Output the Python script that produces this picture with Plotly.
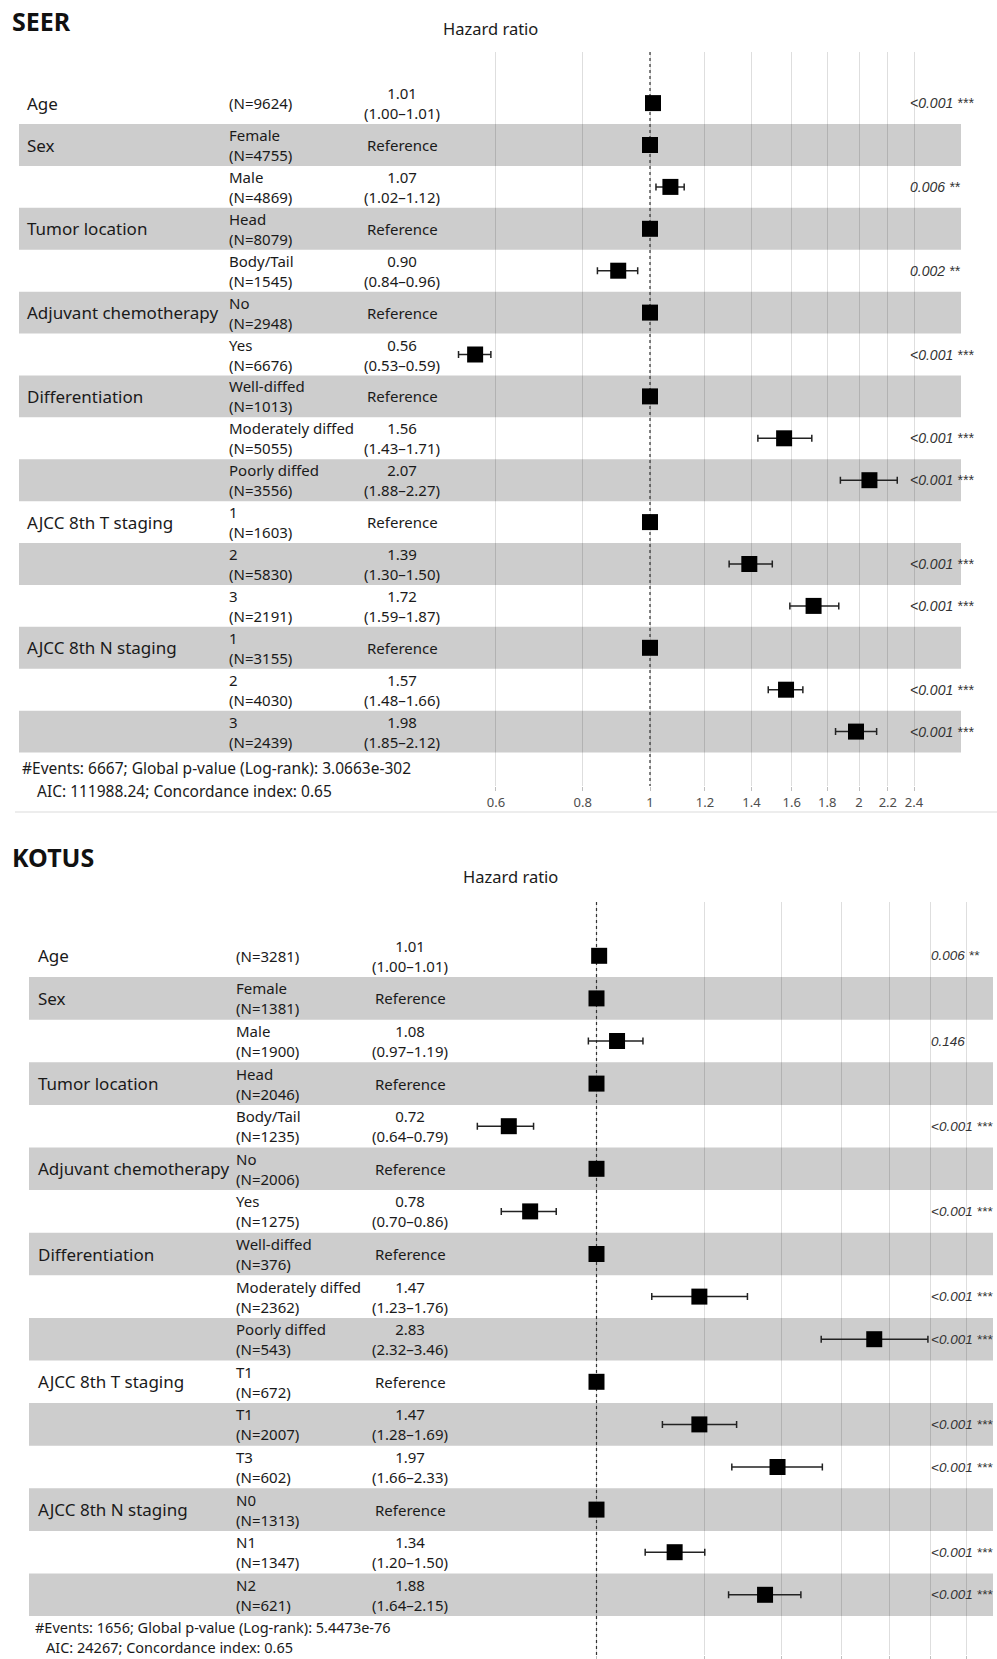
import math
import plotly.graph_objects as go

W, H = 997, 1659

# ---------------- SEER data ----------------
seer_vars = ["Age", "Sex", "", "Tumor location", "", "Adjuvant chemotherapy", "",
             "Differentiation", "", "", "AJCC 8th T staging", "", "",
             "AJCC 8th N staging", "", ""]
seer_levels = ["", "Female", "Male", "Head", "Body/Tail", "No", "Yes", "Well-diffed",
               "Moderately diffed", "Poorly diffed", "1", "2", "3", "1", "2", "3"]
seer_n = [9624, 4755, 4869, 8079, 1545, 2948, 6676, 1013, 5055, 3556,
          1603, 5830, 2191, 3155, 4030, 2439]
seer_hr = [1.01, 1, 1.07, 1, 0.90, 1, 0.56, 1, 1.56, 2.07, 1, 1.39, 1.72, 1, 1.57, 1.98]
seer_lo = [1.00, None, 1.02, None, 0.84, None, 0.53, None, 1.43, 1.88,
           None, 1.30, 1.59, None, 1.48, 1.85]
seer_hi = [1.01, None, 1.12, None, 0.96, None, 0.59, None, 1.71, 2.27,
           None, 1.50, 1.87, None, 1.66, 2.12]
seer_p = ["<0.001 ***", "", "0.006 **", "", "0.002 **", "", "<0.001 ***", "",
          "<0.001 ***", "<0.001 ***", "", "<0.001 ***", "<0.001 ***", "",
          "<0.001 ***", "<0.001 ***"]
seer_ticks = [0.6, 0.8, 1, 1.2, 1.4, 1.6, 1.8, 2, 2.2, 2.4]
seer_footer = ["#Events: 6667; Global p-value (Log-rank): 3.0663e-302",
               "AIC: 111988.24; Concordance index: 0.65"]

# ---------------- KOTUS data ----------------
kotus_vars = ["Age", "Sex", "", "Tumor location", "", "Adjuvant chemotherapy", "",
              "Differentiation", "", "", "AJCC 8th T staging", "", "",
              "AJCC 8th N staging", "", ""]
kotus_levels = ["", "Female", "Male", "Head", "Body/Tail", "No", "Yes", "Well-diffed",
                "Moderately diffed", "Poorly diffed", "T1", "T1", "T3", "N0", "N1", "N2"]
kotus_n = [3281, 1381, 1900, 2046, 1235, 2006, 1275, 376, 2362, 543,
           672, 2007, 602, 1313, 1347, 621]
kotus_hr = [1.01, 1, 1.08, 1, 0.72, 1, 0.78, 1, 1.47, 2.83, 1, 1.47, 1.97, 1, 1.34, 1.88]
kotus_lo = [1.00, None, 0.97, None, 0.64, None, 0.70, None, 1.23, 2.32,
            None, 1.28, 1.66, None, 1.20, 1.64]
kotus_hi = [1.01, None, 1.19, None, 0.79, None, 0.86, None, 1.76, 3.46,
            None, 1.69, 2.33, None, 1.50, 2.15]
kotus_p = ["0.006 **", "", "0.146", "", "<0.001 ***", "", "<0.001 ***", "",
           "<0.001 ***", "<0.001 ***", "", "<0.001 ***", "<0.001 ***", "",
           "<0.001 ***", "<0.001 ***"]
kotus_ticks = [1, 1.5, 2, 2.5, 3, 3.5, 4]
kotus_footer = ["#Events: 1656; Global p-value (Log-rank): 5.4473e-76",
                "AIC: 24267; Concordance index: 0.65"]

FONT = "Noto Sans"
PFONT = "Liberation Sans"
STRIPE = "#cdcdcd"
GRID = "rgba(0,0,0,0.13)"


def px(x):
    return x / W


def py(y):
    return 1 - y / H


panels = [
    dict(name="SEER", vars=seer_vars, levels=seer_levels, n=seer_n, hr=seer_hr,
         lo=seer_lo, hi=seer_hi, p=seer_p, ticks=seer_ticks, footer=seer_footer,
         title_y=21, hr_title=(490, 28), xdom=(430, 960), x_one=650.0, ppl=301.6,
         ydom=(52, 786), row0=103.1, rowh=41.9, stripe=(19, 961), var_x=25,
         lvl_x=227, hr_x=402, p_x=908, p_size=14, foot_pos=[(21, 768), (36, 791)],
         foot_size=15.5, ticklabels=True, xa="x", ya="y"),
    dict(name="KOTUS", vars=kotus_vars, levels=kotus_levels, n=kotus_n, hr=kotus_hr,
         lo=kotus_lo, hi=kotus_hi, p=kotus_p, ticks=kotus_ticks, footer=kotus_footer,
         title_y=857, hr_title=(511, 876), xdom=(430, 997), x_one=596.5, ppl=267.0,
         ydom=(902, 1655), row0=955.8, rowh=42.6, stripe=(29, 993), var_x=36,
         lvl_x=234, hr_x=410, p_x=929, p_size=13.5, foot_pos=[(34, 1627), (45, 1647)],
         foot_size=14.5, ticklabels=False, xa="x2", ya="y2"),
]

fig = go.Figure()
shapes = []
annotations = []
layout_axes = {}

for k, P in enumerate(panels):
    rows = list(range(len(P["hr"])))
    ppd = P["ppl"] * math.log(10)
    xr = [(P["xdom"][0] - P["x_one"]) / ppd, (P["xdom"][1] - P["x_one"]) / ppd]
    y_top = (P["ydom"][0] - P["row0"]) / P["rowh"]
    y_bot = (P["ydom"][1] - P["row0"]) / P["rowh"]

    xname = "xaxis" if k == 0 else "xaxis2"
    yname = "yaxis" if k == 0 else "yaxis2"
    layout_axes[xname] = dict(
        type="log", range=xr, domain=[px(P["xdom"][0]), px(P["xdom"][1])],
        anchor=P["ya"], tickmode="array", tickvals=P["ticks"],
        ticktext=[("%g" % t) for t in P["ticks"]],
        showticklabels=P["ticklabels"], showgrid=True, gridcolor=GRID, gridwidth=1,
        zeroline=False, showline=False, ticks="outside", ticklen=4,
        tickcolor="rgba(0,0,0,0.25)", automargin=False,
        tickfont=dict(family=FONT, size=13, color="#4d4d4d"))
    layout_axes[yname] = dict(
        range=[y_bot, y_top], domain=[py(P["ydom"][1]), py(P["ydom"][0])],
        anchor=P["xa"], visible=False, showgrid=False, zeroline=False,
        automargin=False)

    # alternating stripes
    for i in rows:
        if i % 2 == 1:
            shapes.append(dict(type="rect", xref="paper", yref=P["ya"],
                               x0=px(P["stripe"][0]), x1=px(P["stripe"][1]),
                               y0=i - 0.5, y1=i + 0.5, fillcolor=STRIPE,
                               line=dict(width=0), layer="below"))

    # reference line at HR = 1
    fig.add_trace(go.Scatter(x=[1, 1], y=[y_top, y_bot], mode="lines",
                             line=dict(color="#333333", width=1.2, dash="dot"),
                             xaxis=P["xa"], yaxis=P["ya"], showlegend=False,
                             hoverinfo="skip"))

    # points with confidence intervals
    plus = [(h - c) if h is not None else None for h, c in zip(P["hi"], P["hr"])]
    minus = [(c - l) if l is not None else None for l, c in zip(P["lo"], P["hr"])]
    fig.add_trace(go.Scatter(
        x=P["hr"], y=rows, mode="markers",
        marker=dict(symbol="square", size=16, color="black", line=dict(width=0)),
        error_x=dict(type="data", symmetric=False, array=plus, arrayminus=minus,
                     color="#222222", thickness=1.5, width=3.5),
        xaxis=P["xa"], yaxis=P["ya"], showlegend=False))

    # table text
    for i in rows:
        if P["vars"][i]:
            annotations.append(dict(x=px(P["var_x"]), y=i, xref="paper", yref=P["ya"],
                                    text=P["vars"][i], showarrow=False, xanchor="left",
                                    yanchor="middle",
                                    font=dict(family=FONT, size=17, color="#1a1a1a")))
        lvl = ("%s<br>(N=%d)" % (P["levels"][i], P["n"][i])) if P["levels"][i] \
            else "(N=%d)" % P["n"][i]
        annotations.append(dict(x=px(P["lvl_x"]), y=i, xref="paper", yref=P["ya"],
                                text=lvl, showarrow=False, xanchor="left", align="left",
                                yanchor="middle",
                                font=dict(family=FONT, size=15, color="#1a1a1a")))
        if P["lo"][i] is None:
            hrt = "Reference"
        else:
            hrt = "%.2f<br>(%.2f\u2013%.2f)" % (P["hr"][i], P["lo"][i], P["hi"][i])
        annotations.append(dict(x=px(P["hr_x"]), y=i, xref="paper", yref=P["ya"],
                                text=hrt, showarrow=False, xanchor="center",
                                align="center", yanchor="middle",
                                font=dict(family=FONT, size=15, color="#1a1a1a")))
        if P["p"][i]:
            annotations.append(dict(x=px(P["p_x"]), y=i, xref="paper", yref=P["ya"],
                                    text="<i>%s</i>" % P["p"][i], showarrow=False,
                                    xanchor="left", yanchor="middle",
                                    font=dict(family=PFONT, size=P["p_size"],
                                              color="#333333")))

    # panel title and axis header
    annotations.append(dict(x=px(10), y=py(P["title_y"]), xref="paper", yref="paper",
                            text="<b>%s</b>" % P["name"], showarrow=False,
                            xanchor="left", yanchor="middle",
                            font=dict(family=FONT, size=25, color="#111111")))
    annotations.append(dict(x=px(P["hr_title"][0]), y=py(P["hr_title"][1]),
                            xref="paper", yref="paper", text="Hazard ratio",
                            showarrow=False, xanchor="center", yanchor="middle",
                            font=dict(family=FONT, size=16.5, color="#1a1a1a")))
    for txt, (fx, fy) in zip(P["footer"], P["foot_pos"]):
        annotations.append(dict(x=px(fx), y=py(fy), xref="paper", yref="paper",
                                text=txt, showarrow=False, xanchor="left",
                                yanchor="middle", borderpad=0,
                                font=dict(family=FONT, size=P["foot_size"],
                                          color="#1a1a1a")))

# faint separator under the SEER panel
shapes.append(dict(type="line", xref="paper", yref="paper", x0=px(15), x1=1,
                   y0=py(812), y1=py(812), line=dict(color="#ededed", width=2),
                   layer="below"))

fig.update_layout(
    template="none",
    width=W, height=H, autosize=False,
    margin=dict(l=0, r=0, t=0, b=0, pad=0),
    paper_bgcolor="white", plot_bgcolor="rgba(0,0,0,0)",
    shapes=shapes, annotations=annotations, showlegend=False,
    font=dict(family=FONT),
    **layout_axes,
)

fig.write_html("out.html",
               config={"displayModeBar": False},
               post_script="document.body.style.margin='0px';"
                           "document.body.style.overflow='hidden';")
